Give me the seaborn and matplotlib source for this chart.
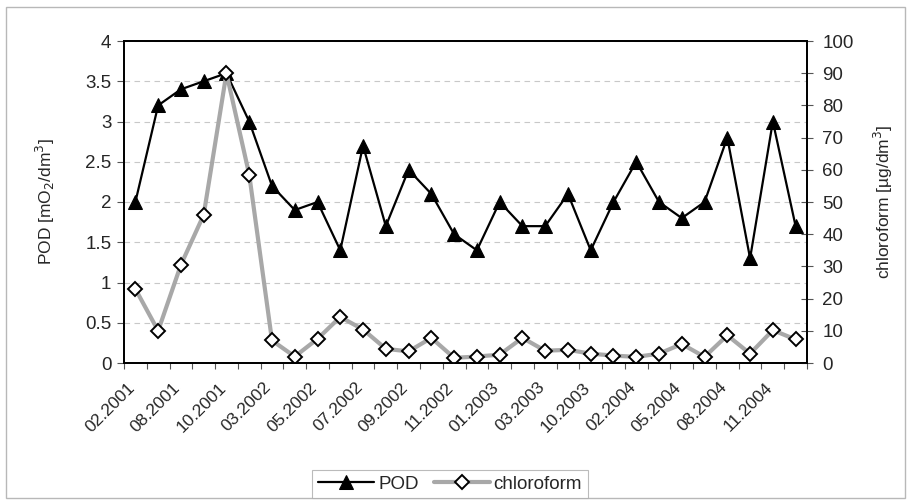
import matplotlib
matplotlib.use("Agg")
import matplotlib.pyplot as plt
import matplotlib.patches as mpatches
import matplotlib.transforms as mtransforms
import seaborn as sns
import pandas as pd
import numpy as np

# Sampling dates (every second one is labelled on the axis)
tick_labels = ["02.2001", "08.2001", "10.2001", "03.2002", "05.2002", "07.2002",
               "09.2002", "11.2002", "01.2003", "03.2003", "10.2003", "02.2004",
               "05.2004", "08.2004", "11.2004"]

# Permanganate oxygen demand [mgO2/dm3]
pod = [2.0, 3.2, 3.4, 3.5, 3.6, 3.0, 2.2, 1.9, 2.0, 1.4,
       2.7, 1.7, 2.4, 2.1, 1.6, 1.4, 2.0, 1.7, 1.7, 2.1,
       1.4, 2.0, 2.5, 2.0, 1.8, 2.0, 2.8, 1.3, 3.0, 1.7]

# Chloroform concentration [ug/dm3]
chloroform = [23.0, 10.0, 30.5, 46.0, 90.0, 58.5, 7.0, 2.0, 7.5, 14.3,
              10.4, 4.4, 3.6, 7.8, 1.6, 2.0, 2.6, 7.8, 3.8, 4.1,
              2.9, 2.3, 1.9, 2.9, 5.9, 1.9, 8.6, 2.9, 10.2, 7.3]

df = pd.DataFrame({"idx": np.arange(len(pod)), "POD": pod, "chloroform": chloroform})

sns.set_theme(style="white")
plt.rcParams["font.family"] = ["Liberation Sans", "DejaVu Sans"]

fig = plt.figure(figsize=(9.11, 5.03), dpi=100)
ax = fig.add_axes([124 / 911, 1 - 363 / 503, (807 - 124) / 911, (363 - 41) / 503])
ax2 = ax.twinx()

# outer chart frame
fig.patches.append(mpatches.Rectangle((6 / 911, 5 / 503), 899 / 911, 491 / 503,
                                      transform=fig.transFigure, fill=False,
                                      edgecolor="#b8b8b8", linewidth=1.0))

sns.lineplot(data=df, x="idx", y="POD", ax=ax, color="black", linewidth=1.6,
             marker="^", markersize=10, markerfacecolor="black",
             markeredgecolor="black", label="POD", legend=False)
sns.lineplot(data=df, x="idx", y="chloroform", ax=ax2, color="#a8a8a8", linewidth=3.0,
             marker="D", markersize=7, markerfacecolor="white",
             markeredgecolor="black", markeredgewidth=1.4, label="chloroform",
             legend=False)

n = len(pod)
ax.set_xlim(-0.5, n - 0.5)
ax.set_ylim(0, 4)
ax2.set_ylim(0, 100)

ax.set_yticks(np.arange(0, 4.01, 0.5))
ax.set_yticklabels(["0", "0.5", "1", "1.5", "2", "2.5", "3", "3.5", "4"])
ax2.set_yticks(np.arange(0, 101, 10))

ax.set_xticks(np.arange(0, n, 2))
ax.set_xticklabels(tick_labels, rotation=45, ha="right", rotation_mode="anchor")
ax.set_xticks(np.arange(-0.5, n, 1), minor=True)

ax.tick_params(axis="x", which="major", length=0, labelsize=12.5, pad=12)
ax.tick_params(axis="x", which="minor", length=4, width=0.8, color="#555555",
               bottom=True, direction="out")
ax.tick_params(axis="y", length=5, width=0.8, color="#555555", labelsize=13.5,
               left=True, direction="out", pad=4)
ax2.tick_params(axis="y", length=8, width=0.8, color="#555555", labelsize=13.5,
                right=True, direction="inout", pad=7)

# nudge the slanted date labels a little to the left
shift = mtransforms.ScaledTranslation(-6 / 72, 0, fig.dpi_scale_trans)
for lbl in ax.get_xticklabels():
    lbl.set_transform(lbl.get_transform() + shift)

ax.set_xlabel("")
ax.set_ylabel("POD [mO$_2$/dm$^3$]", fontsize=12.5, labelpad=20)
ax2.set_ylabel("chloroform [µg/dm$^3$]", fontsize=12.5, labelpad=13)

ax.yaxis.grid(True, color="#c8c8c8", linestyle=(0, (5, 4)), linewidth=0.8)
ax.set_axisbelow(True)

for a in (ax, ax2):
    for s in a.spines.values():
        s.set_color("black")
        s.set_linewidth(1.3)

h1, l1 = ax.get_legend_handles_labels()
h2, l2 = ax2.get_legend_handles_labels()
leg = fig.legend(h1 + h2, l1 + l2, loc="center", bbox_to_anchor=(450 / 911, 1 - 484 / 503),
                 ncol=2, frameon=True, fancybox=False, fontsize=13.5,
                 handlelength=3.0, handletextpad=0.2, columnspacing=0.8,
                 borderpad=0.3, edgecolor="#aaaaaa")
leg.get_frame().set_linewidth(0.8)

fig.savefig("out.png", dpi=100, facecolor="white")
